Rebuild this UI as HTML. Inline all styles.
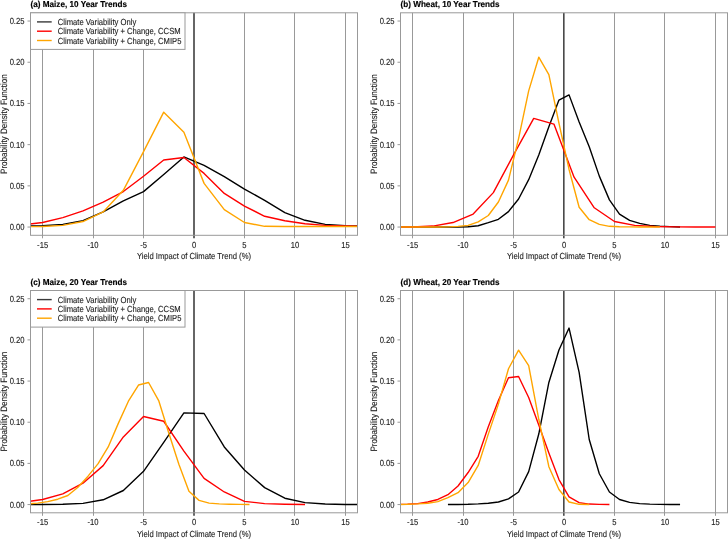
<!DOCTYPE html>
<html><head><meta charset="utf-8"><style>
html,body{margin:0;padding:0;background:#fff;}
svg{display:block;}
svg{will-change:transform;}
text{text-rendering:geometricPrecision;}
.t{font-family:"Liberation Sans",sans-serif;font-size:7.65px;fill:#222;stroke:#222;stroke-width:0.1px;}
.ty{font-family:"Liberation Sans",sans-serif;font-size:8.05px;fill:#222;stroke:#222;stroke-width:0.1px;}
.tt{font-family:"Liberation Sans",sans-serif;font-size:8.17px;font-weight:bold;fill:#000;stroke:#000;stroke-width:0.15px;}
</style></head><body>
<svg width="728" height="539" viewBox="0 0 728 539">
<rect width="728" height="539" fill="#fff"/>
<clipPath id="clipa"><rect x="30.5" y="12.8" width="327.00" height="222.50"/></clipPath>
<line x1="42.5" y1="12.8" x2="42.5" y2="238.3" stroke="#999999" stroke-width="1"/>
<line x1="93.5" y1="12.8" x2="93.5" y2="238.3" stroke="#999999" stroke-width="1"/>
<line x1="143.5" y1="12.8" x2="143.5" y2="238.3" stroke="#999999" stroke-width="1"/>
<line x1="244.5" y1="12.8" x2="244.5" y2="238.3" stroke="#999999" stroke-width="1"/>
<line x1="294.5" y1="12.8" x2="294.5" y2="238.3" stroke="#999999" stroke-width="1"/>
<line x1="345.5" y1="12.8" x2="345.5" y2="238.3" stroke="#999999" stroke-width="1"/>
<line x1="27.5" y1="227.06" x2="30.5" y2="227.06" stroke="#999999" stroke-width="1"/>
<text transform="translate(24.50,230.06) scale(1,1.15)" text-anchor="end" class="t">0.00</text>
<line x1="27.5" y1="185.86" x2="30.5" y2="185.86" stroke="#999999" stroke-width="1"/>
<text transform="translate(24.50,188.86) scale(1,1.15)" text-anchor="end" class="t">0.05</text>
<line x1="27.5" y1="144.65" x2="30.5" y2="144.65" stroke="#999999" stroke-width="1"/>
<text transform="translate(24.50,147.65) scale(1,1.15)" text-anchor="end" class="t">0.10</text>
<line x1="27.5" y1="103.45" x2="30.5" y2="103.45" stroke="#999999" stroke-width="1"/>
<text transform="translate(24.50,106.45) scale(1,1.15)" text-anchor="end" class="t">0.15</text>
<line x1="27.5" y1="62.24" x2="30.5" y2="62.24" stroke="#999999" stroke-width="1"/>
<text transform="translate(24.50,65.24) scale(1,1.15)" text-anchor="end" class="t">0.20</text>
<line x1="27.5" y1="21.04" x2="30.5" y2="21.04" stroke="#999999" stroke-width="1"/>
<text transform="translate(24.50,24.04) scale(1,1.15)" text-anchor="end" class="t">0.25</text>
<text transform="translate(42.61,247.60) scale(1,1.15)" text-anchor="middle" class="t">-15</text>
<text transform="translate(93.07,247.60) scale(1,1.15)" text-anchor="middle" class="t">-10</text>
<text transform="translate(143.54,247.60) scale(1,1.15)" text-anchor="middle" class="t">-5</text>
<text transform="translate(194.00,247.60) scale(1,1.15)" text-anchor="middle" class="t">0</text>
<text transform="translate(244.46,247.60) scale(1,1.15)" text-anchor="middle" class="t">5</text>
<text transform="translate(294.93,247.60) scale(1,1.15)" text-anchor="middle" class="t">10</text>
<text transform="translate(345.39,247.60) scale(1,1.15)" text-anchor="middle" class="t">15</text>
<text transform="translate(194.00,259.30) scale(1,1.15)" text-anchor="middle" class="t">Yield Impact of Climate Trend (%)</text>
<text transform="translate(7.00,124.05) rotate(-90) scale(1,1.15)" x="0" y="0" text-anchor="middle" class="ty">Probability Density Function</text>
<text transform="translate(30.50,6.80) scale(1,1.05)" text-anchor="start" class="tt">(a) Maize, 10 Year Trends</text>
<line x1="194.00" y1="12.8" x2="194.00" y2="238.3" stroke="#666" stroke-width="2"/>
<g clip-path="url(#clipa)">
<polyline points="22.43,226.24 42.61,225.74 62.80,224.34 82.98,220.71 103.17,211.90 123.35,200.85 143.54,191.62 163.72,174.57 183.91,156.93 204.09,165.34 224.28,176.54 244.46,189.07 264.65,200.28 284.83,212.56 305.02,220.30 325.20,224.34 345.39,225.74 365.57,226.24" fill="none" stroke="#000000" stroke-width="1.4" stroke-linejoin="round"/>
<polyline points="22.43,225.00 42.61,222.53 62.80,217.58 82.98,210.91 103.17,202.17 123.35,191.54 143.54,176.30 163.72,160.06 183.91,157.51 204.09,173.41 224.28,193.44 244.46,206.05 264.65,216.26 284.83,220.71 305.02,223.76 325.20,225.33 345.39,226.07 365.57,226.40" fill="none" stroke="#FF0000" stroke-width="1.4" stroke-linejoin="round"/>
<polyline points="22.43,226.73 42.61,226.56 62.80,225.33 82.98,221.54 103.17,211.90 123.35,190.31 143.54,151.57 163.72,112.18 183.91,132.21 204.09,183.38 224.28,209.67 244.46,222.53 264.65,226.32 284.83,226.56 305.02,226.56 325.20,226.56 345.39,226.56 365.57,226.56" fill="none" stroke="#FFA500" stroke-width="1.4" stroke-linejoin="round"/>
</g>
<rect x="30.5" y="12.8" width="327.00" height="222.50" fill="none" stroke="#999999" stroke-width="1"/>
<rect x="30.5" y="12.8" width="154.5" height="36.6" fill="#fff" stroke="#999999" stroke-width="1"/>
<line x1="37.0" y1="21.90" x2="51.7" y2="21.90" stroke="#3a3a3a" stroke-width="1.4"/>
<text transform="translate(57.80,24.90) scale(1,1.15)" text-anchor="start" class="t">Climate Variability Only</text>
<line x1="37.0" y1="31.20" x2="51.7" y2="31.20" stroke="#FF0000" stroke-width="1.4"/>
<text transform="translate(57.80,34.20) scale(1,1.15)" text-anchor="start" class="t">Climate Variability + Change, CCSM</text>
<line x1="37.0" y1="40.50" x2="51.7" y2="40.50" stroke="#FFA500" stroke-width="1.4"/>
<text transform="translate(57.80,43.50) scale(1,1.15)" text-anchor="start" class="t">Climate Variability + Change, CMIP5</text>
<clipPath id="clipb"><rect x="400.5" y="12.8" width="327.00" height="222.50"/></clipPath>
<line x1="412.5" y1="12.8" x2="412.5" y2="238.3" stroke="#999999" stroke-width="1"/>
<line x1="463.5" y1="12.8" x2="463.5" y2="238.3" stroke="#999999" stroke-width="1"/>
<line x1="513.5" y1="12.8" x2="513.5" y2="238.3" stroke="#999999" stroke-width="1"/>
<line x1="614.5" y1="12.8" x2="614.5" y2="238.3" stroke="#999999" stroke-width="1"/>
<line x1="664.5" y1="12.8" x2="664.5" y2="238.3" stroke="#999999" stroke-width="1"/>
<line x1="715.5" y1="12.8" x2="715.5" y2="238.3" stroke="#999999" stroke-width="1"/>
<line x1="397.5" y1="227.06" x2="400.5" y2="227.06" stroke="#999999" stroke-width="1"/>
<text transform="translate(394.50,230.06) scale(1,1.15)" text-anchor="end" class="t">0.00</text>
<line x1="397.5" y1="185.86" x2="400.5" y2="185.86" stroke="#999999" stroke-width="1"/>
<text transform="translate(394.50,188.86) scale(1,1.15)" text-anchor="end" class="t">0.05</text>
<line x1="397.5" y1="144.65" x2="400.5" y2="144.65" stroke="#999999" stroke-width="1"/>
<text transform="translate(394.50,147.65) scale(1,1.15)" text-anchor="end" class="t">0.10</text>
<line x1="397.5" y1="103.45" x2="400.5" y2="103.45" stroke="#999999" stroke-width="1"/>
<text transform="translate(394.50,106.45) scale(1,1.15)" text-anchor="end" class="t">0.15</text>
<line x1="397.5" y1="62.24" x2="400.5" y2="62.24" stroke="#999999" stroke-width="1"/>
<text transform="translate(394.50,65.24) scale(1,1.15)" text-anchor="end" class="t">0.20</text>
<line x1="397.5" y1="21.04" x2="400.5" y2="21.04" stroke="#999999" stroke-width="1"/>
<text transform="translate(394.50,24.04) scale(1,1.15)" text-anchor="end" class="t">0.25</text>
<text transform="translate(412.61,247.60) scale(1,1.15)" text-anchor="middle" class="t">-15</text>
<text transform="translate(463.07,247.60) scale(1,1.15)" text-anchor="middle" class="t">-10</text>
<text transform="translate(513.54,247.60) scale(1,1.15)" text-anchor="middle" class="t">-5</text>
<text transform="translate(564.00,247.60) scale(1,1.15)" text-anchor="middle" class="t">0</text>
<text transform="translate(614.46,247.60) scale(1,1.15)" text-anchor="middle" class="t">5</text>
<text transform="translate(664.93,247.60) scale(1,1.15)" text-anchor="middle" class="t">10</text>
<text transform="translate(715.39,247.60) scale(1,1.15)" text-anchor="middle" class="t">15</text>
<text transform="translate(564.00,259.30) scale(1,1.15)" text-anchor="middle" class="t">Yield Impact of Climate Trend (%)</text>
<text transform="translate(377.00,124.05) rotate(-90) scale(1,1.15)" x="0" y="0" text-anchor="middle" class="ty">Probability Density Function</text>
<text transform="translate(400.50,6.80) scale(1,1.05)" text-anchor="start" class="tt">(b) Wheat, 10 Year Trends</text>
<line x1="563.5" y1="12.8" x2="563.5" y2="238.3" stroke="#4a4a4a" stroke-width="1"/>
<line x1="564.5" y1="12.8" x2="564.5" y2="238.3" stroke="#8e8e8e" stroke-width="1"/>
<g clip-path="url(#clipb)">
<polyline points="397.47,227.06 407.56,227.06 417.66,227.06 427.75,227.06 437.84,227.06 447.94,227.06 458.03,227.06 468.12,226.73 478.21,225.74 488.31,222.69 498.40,219.31 508.49,211.57 518.58,199.04 528.68,179.68 538.77,155.04 548.86,126.77 558.95,100.07 569.05,94.88 579.14,121.99 589.23,146.71 599.32,176.13 609.42,199.86 619.51,214.04 629.60,220.30 639.69,223.43 649.79,225.33 659.88,226.24 669.97,226.65 680.06,227.06" fill="none" stroke="#000000" stroke-width="1.4" stroke-linejoin="round"/>
<polyline points="392.43,227.06 412.61,227.06 432.80,226.07 452.98,222.53 473.17,214.04 493.35,192.61 513.54,154.95 533.72,118.36 553.91,124.05 574.09,177.20 594.28,207.78 614.46,221.54 634.65,225.33 654.83,226.56 675.02,226.89 695.20,226.98 715.39,227.06" fill="none" stroke="#FF0000" stroke-width="1.4" stroke-linejoin="round"/>
<polyline points="397.47,227.06 407.56,227.06 417.66,227.06 427.75,227.06 437.84,227.06 447.94,226.89 458.03,226.40 468.12,225.41 478.21,221.79 488.31,215.52 498.40,202.01 508.49,180.09 518.58,138.55 528.68,90.92 538.77,57.22 548.86,74.69 558.95,123.23 569.05,169.46 579.14,207.20 589.23,219.73 599.32,224.34 609.42,226.32 619.51,226.73 629.60,226.89 639.69,226.98 649.79,227.06 659.88,227.06" fill="none" stroke="#FFA500" stroke-width="1.4" stroke-linejoin="round"/>
</g>
<rect x="400.5" y="12.8" width="327.00" height="222.50" fill="none" stroke="#999999" stroke-width="1"/>
<clipPath id="clipc"><rect x="30.5" y="290.5" width="327.00" height="222.30"/></clipPath>
<line x1="42.5" y1="290.5" x2="42.5" y2="515.8" stroke="#999999" stroke-width="1"/>
<line x1="93.5" y1="290.5" x2="93.5" y2="515.8" stroke="#999999" stroke-width="1"/>
<line x1="143.5" y1="290.5" x2="143.5" y2="515.8" stroke="#999999" stroke-width="1"/>
<line x1="244.5" y1="290.5" x2="244.5" y2="515.8" stroke="#999999" stroke-width="1"/>
<line x1="294.5" y1="290.5" x2="294.5" y2="515.8" stroke="#999999" stroke-width="1"/>
<line x1="345.5" y1="290.5" x2="345.5" y2="515.8" stroke="#999999" stroke-width="1"/>
<line x1="27.5" y1="504.57" x2="30.5" y2="504.57" stroke="#999999" stroke-width="1"/>
<text transform="translate(24.50,507.57) scale(1,1.15)" text-anchor="end" class="t">0.00</text>
<line x1="27.5" y1="463.40" x2="30.5" y2="463.40" stroke="#999999" stroke-width="1"/>
<text transform="translate(24.50,466.40) scale(1,1.15)" text-anchor="end" class="t">0.05</text>
<line x1="27.5" y1="422.23" x2="30.5" y2="422.23" stroke="#999999" stroke-width="1"/>
<text transform="translate(24.50,425.23) scale(1,1.15)" text-anchor="end" class="t">0.10</text>
<line x1="27.5" y1="381.07" x2="30.5" y2="381.07" stroke="#999999" stroke-width="1"/>
<text transform="translate(24.50,384.07) scale(1,1.15)" text-anchor="end" class="t">0.15</text>
<line x1="27.5" y1="339.90" x2="30.5" y2="339.90" stroke="#999999" stroke-width="1"/>
<text transform="translate(24.50,342.90) scale(1,1.15)" text-anchor="end" class="t">0.20</text>
<line x1="27.5" y1="298.73" x2="30.5" y2="298.73" stroke="#999999" stroke-width="1"/>
<text transform="translate(24.50,301.73) scale(1,1.15)" text-anchor="end" class="t">0.25</text>
<text transform="translate(42.61,525.10) scale(1,1.15)" text-anchor="middle" class="t">-15</text>
<text transform="translate(93.07,525.10) scale(1,1.15)" text-anchor="middle" class="t">-10</text>
<text transform="translate(143.54,525.10) scale(1,1.15)" text-anchor="middle" class="t">-5</text>
<text transform="translate(194.00,525.10) scale(1,1.15)" text-anchor="middle" class="t">0</text>
<text transform="translate(244.46,525.10) scale(1,1.15)" text-anchor="middle" class="t">5</text>
<text transform="translate(294.93,525.10) scale(1,1.15)" text-anchor="middle" class="t">10</text>
<text transform="translate(345.39,525.10) scale(1,1.15)" text-anchor="middle" class="t">15</text>
<text transform="translate(194.00,536.80) scale(1,1.15)" text-anchor="middle" class="t">Yield Impact of Climate Trend (%)</text>
<text transform="translate(7.00,401.65) rotate(-90) scale(1,1.15)" x="0" y="0" text-anchor="middle" class="ty">Probability Density Function</text>
<text transform="translate(30.50,284.50) scale(1,1.05)" text-anchor="start" class="tt">(c) Maize, 20 Year Trends</text>
<line x1="194.00" y1="290.5" x2="194.00" y2="515.8" stroke="#666" stroke-width="2"/>
<g clip-path="url(#clipc)">
<polyline points="22.43,504.57 42.61,504.48 62.80,504.32 82.98,503.33 103.17,499.79 123.35,490.49 143.54,471.30 163.72,442.40 183.91,412.85 204.09,413.51 224.28,446.93 244.46,470.07 264.65,487.61 284.83,498.23 305.02,502.59 325.20,504.07 345.39,504.48 365.57,504.57" fill="none" stroke="#000000" stroke-width="1.4" stroke-linejoin="round"/>
<polyline points="22.43,502.26 42.61,499.46 62.80,493.86 82.98,483.16 103.17,465.62 123.35,436.89 143.54,416.47 163.72,421.25 183.91,451.13 204.09,478.38 224.28,491.97 244.46,501.36 264.65,503.58 284.83,504.24 305.02,504.57" fill="none" stroke="#FF0000" stroke-width="1.4" stroke-linejoin="round"/>
<polyline points="27.47,503.91 37.56,503.17 47.66,501.68 57.75,499.21 67.84,495.51 77.94,487.28 88.03,476.16 98.12,463.65 108.21,446.93 118.31,423.39 128.40,401.24 138.49,385.02 148.58,382.47 158.68,400.58 168.77,432.94 178.86,464.22 188.95,491.31 199.05,500.37 209.14,503.17 219.23,503.91 229.32,504.24 239.42,504.40 249.51,504.48" fill="none" stroke="#FFA500" stroke-width="1.4" stroke-linejoin="round"/>
</g>
<rect x="30.5" y="290.5" width="327.00" height="222.30" fill="none" stroke="#999999" stroke-width="1"/>
<rect x="30.5" y="290.5" width="154.5" height="36.6" fill="#fff" stroke="#999999" stroke-width="1"/>
<line x1="37.0" y1="299.60" x2="51.7" y2="299.60" stroke="#3a3a3a" stroke-width="1.4"/>
<text transform="translate(57.80,302.60) scale(1,1.15)" text-anchor="start" class="t">Climate Variability Only</text>
<line x1="37.0" y1="308.90" x2="51.7" y2="308.90" stroke="#FF0000" stroke-width="1.4"/>
<text transform="translate(57.80,311.90) scale(1,1.15)" text-anchor="start" class="t">Climate Variability + Change, CCSM</text>
<line x1="37.0" y1="318.20" x2="51.7" y2="318.20" stroke="#FFA500" stroke-width="1.4"/>
<text transform="translate(57.80,321.20) scale(1,1.15)" text-anchor="start" class="t">Climate Variability + Change, CMIP5</text>
<clipPath id="clipd"><rect x="400.5" y="290.5" width="327.00" height="222.30"/></clipPath>
<line x1="412.5" y1="290.5" x2="412.5" y2="515.8" stroke="#999999" stroke-width="1"/>
<line x1="463.5" y1="290.5" x2="463.5" y2="515.8" stroke="#999999" stroke-width="1"/>
<line x1="513.5" y1="290.5" x2="513.5" y2="515.8" stroke="#999999" stroke-width="1"/>
<line x1="614.5" y1="290.5" x2="614.5" y2="515.8" stroke="#999999" stroke-width="1"/>
<line x1="664.5" y1="290.5" x2="664.5" y2="515.8" stroke="#999999" stroke-width="1"/>
<line x1="715.5" y1="290.5" x2="715.5" y2="515.8" stroke="#999999" stroke-width="1"/>
<line x1="397.5" y1="504.57" x2="400.5" y2="504.57" stroke="#999999" stroke-width="1"/>
<text transform="translate(394.50,507.57) scale(1,1.15)" text-anchor="end" class="t">0.00</text>
<line x1="397.5" y1="463.40" x2="400.5" y2="463.40" stroke="#999999" stroke-width="1"/>
<text transform="translate(394.50,466.40) scale(1,1.15)" text-anchor="end" class="t">0.05</text>
<line x1="397.5" y1="422.23" x2="400.5" y2="422.23" stroke="#999999" stroke-width="1"/>
<text transform="translate(394.50,425.23) scale(1,1.15)" text-anchor="end" class="t">0.10</text>
<line x1="397.5" y1="381.07" x2="400.5" y2="381.07" stroke="#999999" stroke-width="1"/>
<text transform="translate(394.50,384.07) scale(1,1.15)" text-anchor="end" class="t">0.15</text>
<line x1="397.5" y1="339.90" x2="400.5" y2="339.90" stroke="#999999" stroke-width="1"/>
<text transform="translate(394.50,342.90) scale(1,1.15)" text-anchor="end" class="t">0.20</text>
<line x1="397.5" y1="298.73" x2="400.5" y2="298.73" stroke="#999999" stroke-width="1"/>
<text transform="translate(394.50,301.73) scale(1,1.15)" text-anchor="end" class="t">0.25</text>
<text transform="translate(412.61,525.10) scale(1,1.15)" text-anchor="middle" class="t">-15</text>
<text transform="translate(463.07,525.10) scale(1,1.15)" text-anchor="middle" class="t">-10</text>
<text transform="translate(513.54,525.10) scale(1,1.15)" text-anchor="middle" class="t">-5</text>
<text transform="translate(564.00,525.10) scale(1,1.15)" text-anchor="middle" class="t">0</text>
<text transform="translate(614.46,525.10) scale(1,1.15)" text-anchor="middle" class="t">5</text>
<text transform="translate(664.93,525.10) scale(1,1.15)" text-anchor="middle" class="t">10</text>
<text transform="translate(715.39,525.10) scale(1,1.15)" text-anchor="middle" class="t">15</text>
<text transform="translate(564.00,536.80) scale(1,1.15)" text-anchor="middle" class="t">Yield Impact of Climate Trend (%)</text>
<text transform="translate(377.00,401.65) rotate(-90) scale(1,1.15)" x="0" y="0" text-anchor="middle" class="ty">Probability Density Function</text>
<text transform="translate(400.50,284.50) scale(1,1.05)" text-anchor="start" class="tt">(d) Wheat, 20 Year Trends</text>
<line x1="563.5" y1="290.5" x2="563.5" y2="515.8" stroke="#4a4a4a" stroke-width="1"/>
<line x1="564.5" y1="290.5" x2="564.5" y2="515.8" stroke="#8e8e8e" stroke-width="1"/>
<g clip-path="url(#clipd)">
<polyline points="447.94,504.57 458.03,504.48 468.12,504.32 478.21,503.91 488.31,503.25 498.40,502.01 508.49,498.80 518.58,491.97 528.68,471.63 538.77,434.01 548.86,382.47 558.95,350.03 569.05,328.04 579.14,372.42 589.23,439.52 599.32,473.77 609.42,491.97 619.51,499.46 629.60,502.34 639.69,503.58 649.79,504.15 659.88,504.40 669.97,504.48 680.06,504.57" fill="none" stroke="#000000" stroke-width="1.4" stroke-linejoin="round"/>
<polyline points="397.47,504.40 407.56,504.15 417.66,503.58 427.75,502.01 437.84,499.46 447.94,494.69 458.03,486.04 468.12,472.54 478.21,456.32 488.31,426.76 498.40,400.41 508.49,377.77 518.58,376.54 528.68,397.53 538.77,425.03 548.86,453.03 558.95,479.54 569.05,496.91 579.14,502.59 589.23,504.07 599.32,504.40 609.42,504.57" fill="none" stroke="#FF0000" stroke-width="1.4" stroke-linejoin="round"/>
<polyline points="397.47,504.48 407.56,504.32 417.66,503.91 427.75,503.25 437.84,501.68 447.94,497.57 458.03,492.63 468.12,482.58 478.21,465.46 488.31,434.09 498.40,404.12 508.49,368.72 518.58,350.19 528.68,365.59 538.77,419.27 548.86,466.69 558.95,489.50 569.05,502.01 579.14,504.32 589.23,504.57" fill="none" stroke="#FFA500" stroke-width="1.4" stroke-linejoin="round"/>
</g>
<rect x="400.5" y="290.5" width="327.00" height="222.30" fill="none" stroke="#999999" stroke-width="1"/>
</svg>
</body></html>
